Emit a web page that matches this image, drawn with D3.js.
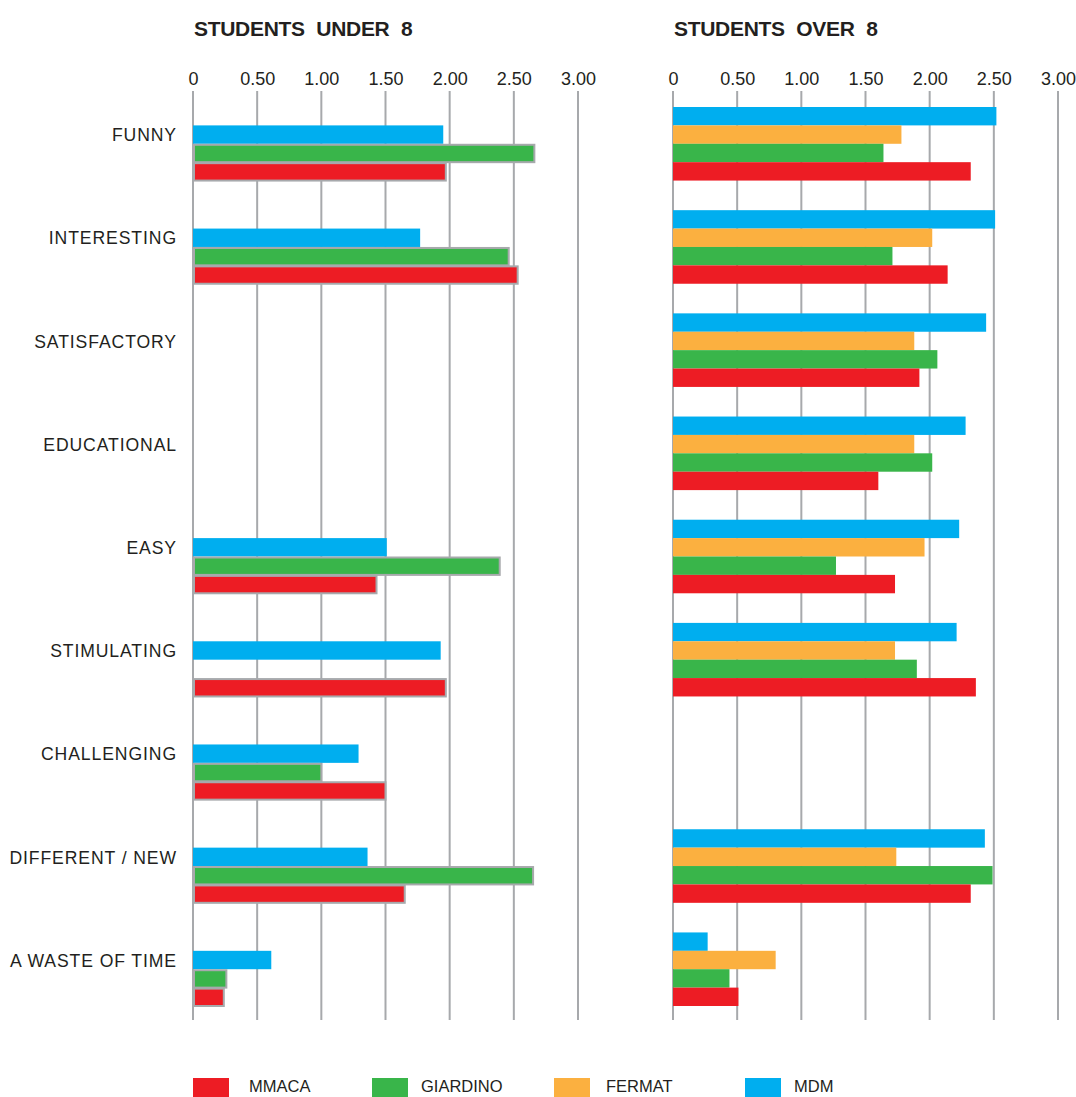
<!DOCTYPE html>
<html>
<head>
<meta charset="utf-8">
<script src="https://cdn.jsdelivr.net/npm/d3@7"></script>
<style>
  html, body { margin: 0; padding: 0; background: #fff; }
  svg { display: block; font-family: "Liberation Sans", Arial, Helvetica, sans-serif; }
</style>
</head>
<body>
<svg id="chart" width="1076" height="1097"></svg>
<script>
// ---------- data ----------
const categories = ["FUNNY", "INTERESTING", "SATISFACTORY", "EDUCATIONAL", "EASY",
  "STIMULATING", "CHALLENGING", "DIFFERENT / NEW", "A WASTE OF TIME"];

const tickValues = [0, 0.5, 1, 1.5, 2, 2.5, 3];
const tickLabels = ["0", "0.50", "1.00", "1.50", "2.00", "2.50", "3.00"];

// Students under 8 (no FERMAT data)
const under8MDM      = [1.95, 1.77, null, null, 1.51, 1.93, 1.29, 1.36, 0.61];
const under8GIARDINO = [2.66, 2.46, null, null, 2.39, null, 1.00, 2.65, 0.26];
const under8MMACA    = [1.97, 2.53, null, null, 1.43, 1.97, 1.50, 1.65, 0.24];

// Students over 8
const over8MDM      = [2.52, 2.51, 2.44, 2.28, 2.23, 2.21, null, 2.43, 0.27];
const over8FERMAT   = [1.78, 2.02, 1.88, 1.88, 1.96, 1.73, null, 1.74, 0.80];
const over8GIARDINO = [1.64, 1.71, 2.06, 2.02, 1.27, 1.90, null, 2.49, 0.44];
const over8MMACA    = [2.32, 2.14, 1.92, 1.60, 1.73, 2.36, null, 2.32, 0.51];

const seriesNames = ["MMACA", "GIARDINO", "FERMAT", "MDM"];
const seriesColors = { MMACA: "#ed1c24", GIARDINO: "#39b54a", FERMAT: "#fbb040", MDM: "#00aeef" };

const titles = ["STUDENTS UNDER 8", "STUDENTS OVER 8"];

// ---------- layout ----------
const svg = d3.select("#chart");
const textColor = "#231f20";
const gridColor = "#a7a9ac";
const gridTop = 91, gridBottom = 1020;

const y = d3.scaleBand().domain(categories).range([107, 1006]).paddingInner(0.287).paddingOuter(0);

const panels = [
  {
    title: titles[0], x0: 193, x1: 578,
    slots: ["_", "MDM", "GIARDINO", "MMACA"],
    series: [
      { name: "MDM", values: under8MDM, outlined: false },
      { name: "GIARDINO", values: under8GIARDINO, outlined: true },
      { name: "MMACA", values: under8MMACA, outlined: true }
    ]
  },
  {
    title: titles[1], x0: 673, x1: 1058,
    slots: ["MDM", "FERMAT", "GIARDINO", "MMACA"],
    series: [
      { name: "MDM", values: over8MDM, outlined: false },
      { name: "FERMAT", values: over8FERMAT, outlined: false },
      { name: "GIARDINO", values: over8GIARDINO, outlined: false },
      { name: "MMACA", values: over8MMACA, outlined: false }
    ]
  }
];

panels.forEach((p, pi) => {
  const x = d3.scaleLinear().domain([0, 3]).range([p.x0, p.x1]);
  const sub = d3.scaleBand().domain(p.slots).range([0, y.bandwidth()]).padding(0);
  const g = svg.append("g");

  // title
  g.append("text")
    .attr("x", p.x0 + 1).attr("y", 36)
    .attr("font-size", 21).attr("font-weight", "bold")
    .attr("letter-spacing", -0.3).attr("word-spacing", 6)
    .attr("fill", textColor)
    .text(p.title);

  // grid lines
  g.append("g").selectAll("line").data(tickValues).join("line")
    .attr("x1", d => x(d)).attr("x2", d => x(d))
    .attr("y1", gridTop).attr("y2", gridBottom)
    .attr("stroke", gridColor).attr("stroke-width", 2);

  // tick labels (axis)
  const axis = d3.axisTop(x).tickValues(tickValues)
    .tickFormat((d, i) => tickLabels[i]).tickSize(0).tickPadding(0);
  const ax = g.append("g").attr("transform", "translate(0,85)").call(axis);
  ax.select(".domain").remove();
  ax.selectAll("text").attr("font-size", 18).attr("fill", textColor)
    .attr("font-family", "'Liberation Sans', Arial, sans-serif").attr("dy", 0);

  // bars
  p.series.forEach(s => {
    const data = categories.map((c, i) => ({ c, v: s.values[i] })).filter(d => d.v != null);
    g.append("g").selectAll("rect").data(data).join("rect")
      .attr("x", x(0) + (s.outlined ? 1 : 0))
      .attr("y", d => y(d.c) + sub(s.name) + (s.outlined ? 1 : 0))
      .attr("width", d => x(d.v) - x(0) - (s.outlined ? 1 : 0))
      .attr("height", sub.bandwidth() - (s.outlined ? 1 : 0))
      .attr("fill", seriesColors[s.name])
      .attr("stroke", s.outlined ? gridColor : "none")
      .attr("stroke-width", s.outlined ? 2 : 0);
  });

  // category labels (left panel only)
  if (pi === 0) {
    g.append("g").selectAll("text").data(categories).join("text")
      .attr("x", 177)
      .attr("y", d => y(d) + y.bandwidth() / 2 - 2.5)
      .attr("text-anchor", "end")
      .attr("font-size", 17.6).attr("letter-spacing", 0.9)
      .attr("fill", textColor)
      .text(d => d);
  }
});

// ---------- legend ----------
const legendX = { MMACA: 193, GIARDINO: 372, FERMAT: 554, MDM: 745 };
const legendTextX = { MMACA: 249, GIARDINO: 421, FERMAT: 606, MDM: 794 };
const lg = svg.append("g");
seriesNames.forEach(n => {
  lg.append("rect").attr("x", legendX[n]).attr("y", 1078).attr("width", 36).attr("height", 20)
    .attr("fill", seriesColors[n]);
  lg.append("text").attr("x", legendTextX[n]).attr("y", 1092)
    .attr("font-size", 16.5).attr("fill", textColor).text(n);
});
</script>
</body>
</html>
